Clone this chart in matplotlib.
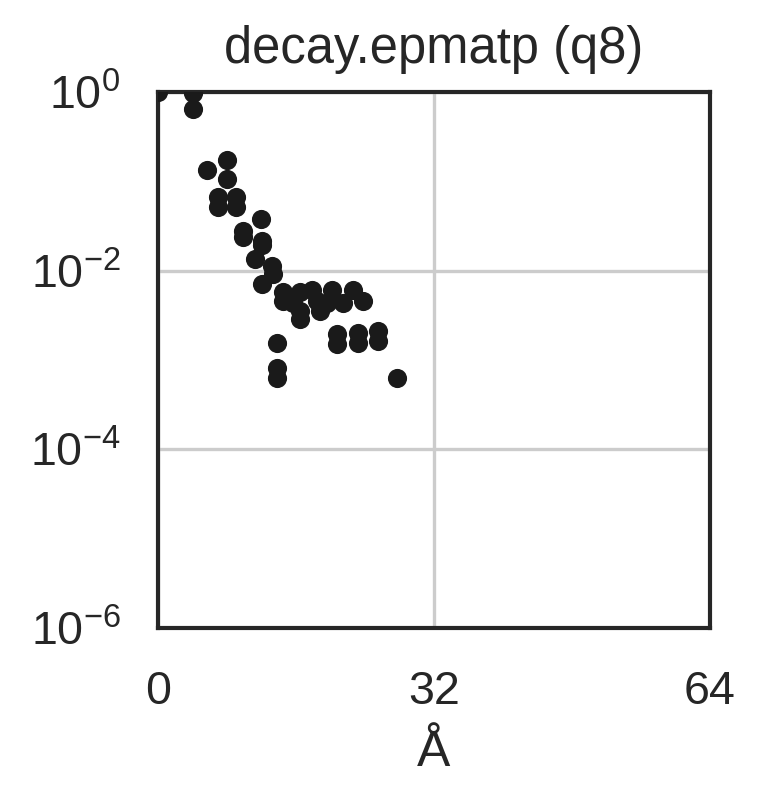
import matplotlib
matplotlib.use("Agg")
import matplotlib.pyplot as plt
import numpy as np

plt.rcParams['font.family'] = ['Liberation Sans', 'DejaVu Sans']
plt.rcParams['mathtext.fontset'] = 'custom'
plt.rcParams['mathtext.rm'] = 'Liberation Sans'
plt.rcParams['mathtext.it'] = 'Liberation Sans:italic'
plt.rcParams['mathtext.bf'] = 'Liberation Sans:bold'

distance = [0.0, 4.09, 4.09, 5.72, 8.03, 8.03, 6.99, 6.99, 9.01, 9.01,
            9.82, 9.82, 11.94, 12.02, 11.25, 13.18, 12.02, 13.37, 12.02,
            14.53, 14.53, 15.65, 16.46, 16.46, 16.46, 17.82, 18.40, 19.56,
            20.14, 21.48, 22.64, 23.80, 18.78, 13.76, 13.76, 13.76, 20.72,
            20.72, 23.22, 23.22, 25.54, 25.54, 27.67]
decay = [1.0, 0.97, 0.64, 0.133, 0.172, 0.105, 0.0667, 0.0514, 0.0667, 0.0514,
         0.0281, 0.024, 0.0381, 0.0217, 0.0135, 0.0114, 0.0195, 0.00925, 0.0071,
         0.0057, 0.0046, 0.0043, 0.0057, 0.00287, 0.00355, 0.0060, 0.0046, 0.0044,
         0.0060, 0.0044, 0.0060, 0.0046, 0.00355, 0.00156, 0.00082, 0.00063, 0.00195,
         0.0015, 0.00203, 0.00156, 0.00212, 0.00163, 0.00063]
title = "decay.epmatp (q8)"
xlabel = "Å"
xticks = [0, 32, 64]

fig = plt.figure(figsize=(763/300, 800/300), dpi=300)
ax = fig.add_axes([158/763, 1-628/800, 552/763, 536/800])
ax.plot(distance, decay, 'o', color='#1a1a1a', markersize=4.6, markeredgewidth=0, zorder=3)
ax.set_yscale('log')
ax.set_xlim(0, 64)
ax.set_ylim(1e-6, 1)
ax.set_xticks(xticks)
ax.set_yticks([1e-6, 1e-4, 1e-2, 1])
ax.yaxis.set_minor_locator(matplotlib.ticker.NullLocator())
ax.grid(True, color='#cccccc', linewidth=0.8, zorder=0)
ax.set_axisbelow(True)
for s in ax.spines.values():
    s.set_color('#262626')
    s.set_linewidth(1.0)
ax.tick_params(length=0, labelsize=11.2, colors='#262626')
ax.tick_params(axis='x', pad=10)
ax.tick_params(axis='y', pad=9)
ax.set_xlabel(xlabel, fontsize=12, color='#262626', labelpad=4)
ax.set_title(title, fontsize=12.2, color='#262626', pad=7)
fig.savefig("out.png", dpi=300, facecolor='white')
